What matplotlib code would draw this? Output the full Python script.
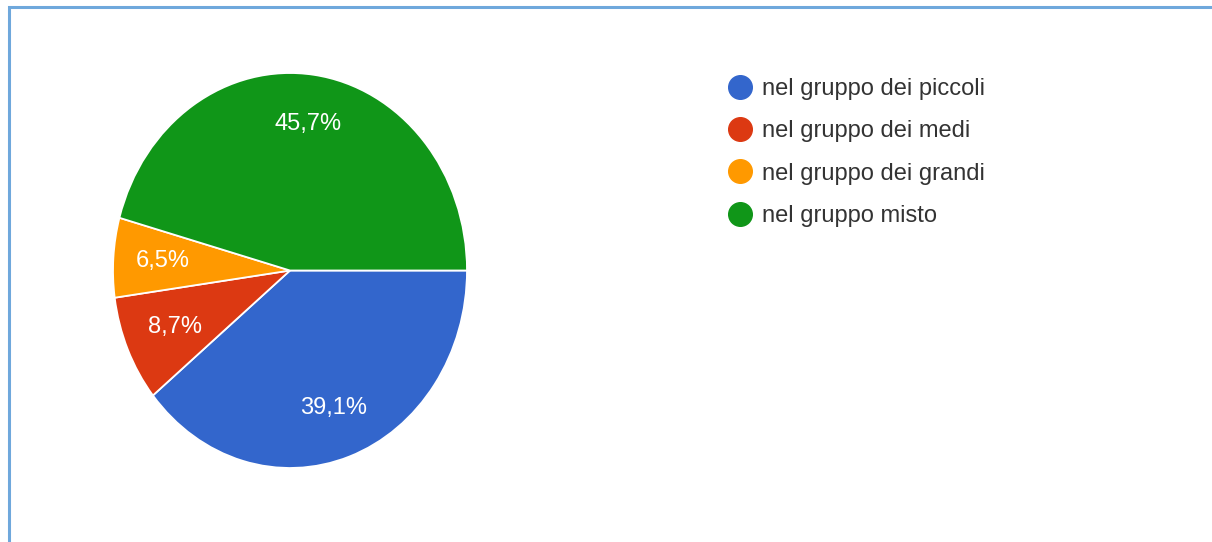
import matplotlib
matplotlib.use("Agg")
import matplotlib.pyplot as plt
from matplotlib.lines import Line2D
from matplotlib.patches import Rectangle
import numpy as np

plt.rcParams['font.family'] = ['Liberation Sans', 'DejaVu Sans']

categories = ["nel gruppo dei piccoli", "nel gruppo dei medi",
              "nel gruppo dei grandi", "nel gruppo misto"]
values = [39.1, 8.7, 6.5, 45.7]
labels = ["39,1%", "8,7%", "6,5%", "45,7%"]
colors = ["#3366cc", "#dc3912", "#ff9900", "#109618"]
label_radius = [0.74, 0.71, 0.72, 0.75]

W, H = 1212, 542
fig = plt.figure(figsize=(W / 100, H / 100), dpi=100)
fig.patch.set_facecolor("white")

# pie axes (pixel layout: centre 290,270; rx 177, ry 197)
cx, cy, rx, ry = 290, 270.5, 177, 197.5
ax = fig.add_axes([(cx - rx) / W, (H - cy - ry) / H, 2 * rx / W, 2 * ry / H])
wedges, _ = ax.pie(values, colors=colors, startangle=0, counterclock=False,
                   wedgeprops=dict(edgecolor="white", linewidth=1.3))
ax.set_aspect("auto")
ax.set_xlim(-1, 1)
ax.set_ylim(-1, 1)

for w, lab, r in zip(wedges, labels, label_radius):
    mid = np.deg2rad((w.theta1 + w.theta2) / 2)
    ax.text(r * np.cos(mid), r * np.sin(mid), lab, color="white",
            fontsize=17, ha="center", va="center")

handles = [Line2D([], [], marker="o", linestyle="", markersize=17,
                  markerfacecolor=c, markeredgecolor=c) for c in colors]
fig.legend(handles, categories, loc="upper left",
           bbox_to_anchor=(726 / W, 1 - 78 / H), frameon=False,
           fontsize=17, labelcolor="#333333", handlelength=1.2,
           handletextpad=0.34, labelspacing=0.86, borderaxespad=0,
           borderpad=0)

# frame border
fig.add_artist(Rectangle((8.5 / W, -0.1), 1.2, (H - 6.5) / H + 0.1,
                         transform=fig.transFigure, fill=False,
                         edgecolor="#6fa8dc", linewidth=2.2))

fig.savefig("out.png", dpi=100, facecolor="white")
